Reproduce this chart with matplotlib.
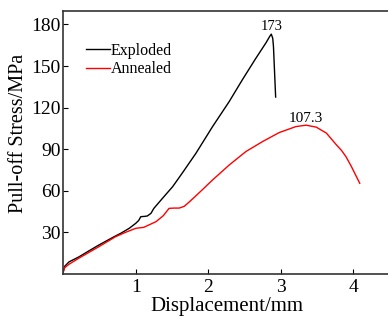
import matplotlib
matplotlib.use('Agg')
import matplotlib.pyplot as plt
import numpy as np

plt.rcParams['font.family'] = ['Liberation Serif', 'DejaVu Serif']

# exploded specimen
exp_x = [0, 0.02, 0.08, 0.22, 0.35, 0.49, 0.7, 0.8, 0.91, 1.0, 1.04, 1.07,
         1.12, 1.16, 1.21, 1.25, 1.37, 1.51, 1.64, 1.83, 2.06, 2.29, 2.47,
         2.65, 2.80, 2.85, 2.87, 2.89, 2.90, 2.93]
exp_y = [1.5, 5.5, 8.7, 12.4, 16.5, 20.8, 26.8, 29.5, 32.9, 36.5, 38.5, 41.3,
         41.5, 41.8, 43.7, 47.3, 54.6, 63, 72.6, 87, 106.3, 124.4, 140,
         155, 167, 171.5, 173, 170, 164, 127.6]

# annealed specimen
ann_x = [0, 0.02, 0.08, 0.22, 0.49, 0.72, 0.85, 1.0, 1.11, 1.28, 1.38, 1.46,
         1.53, 1.60, 1.67, 1.74, 1.9, 2.06, 2.29, 2.52, 2.75, 2.98, 3.21,
         3.35, 3.49, 3.63, 3.77, 3.84, 3.90, 3.97, 4.09]
ann_y = [1.5, 4.5, 7.0, 11.5, 19.6, 26.8, 29.8, 32.9, 33.6, 37.7, 42, 47.3,
         47.5, 47.5, 48.8, 52, 59.8, 67.8, 78.6, 88.3, 95.5, 102, 106.3,
         107.3, 105.9, 101.6, 93, 89, 84.6, 78, 65.4]

fig = plt.figure(figsize=(3.88, 3.20), dpi=100)
ax = fig.add_axes([0.163, 0.144, 0.837, 0.823])

ax.plot(exp_x, exp_y, color='black', lw=1.0, label='Exploded')
ax.plot(ann_x, ann_y, color='red', lw=1.0, label='Annealed')

# peak labels
i = int(np.argmax(exp_y))
ax.annotate('173', (exp_x[i], exp_y[i]), xytext=(0, 3), textcoords='offset points',
            ha='center', va='baseline', fontsize=10.5)
j = int(np.argmax(ann_y))
ax.annotate('107.3', (ann_x[j], ann_y[j]), xytext=(0, 2), textcoords='offset points',
            ha='center', va='baseline', fontsize=11)

ax.set_xlim(0, 4.48)
ax.set_ylim(0, 190)
ax.set_xticks([1, 2, 3, 4])
ax.set_yticks([30, 60, 90, 120, 150, 180])
ax.tick_params(axis='x', direction='in', length=3.5, labelsize=14, pad=4)
ax.tick_params(axis='y', direction='in', length=3.5, labelsize=14, pad=2)
ax.spines['right'].set_visible(False)
for s in ['left', 'bottom', 'top']:
    ax.spines[s].set_linewidth(1.2)
    ax.spines[s].set_color('#333333')

ax.set_xlabel('Displacement/mm', fontsize=15)
ax.set_ylabel('Pull-off Stress/MPa', fontsize=14.5)
ax.xaxis.set_label_coords(0.504, -0.089)
ax.yaxis.set_label_coords(-0.11, 0.535)

ax.legend(loc='upper left', bbox_to_anchor=(0.049, 0.901), frameon=False,
          fontsize=11.5, handlelength=1.56, handletextpad=0.0, labelspacing=0.15,
          borderaxespad=0)

fig.savefig('out.png', dpi=100)
